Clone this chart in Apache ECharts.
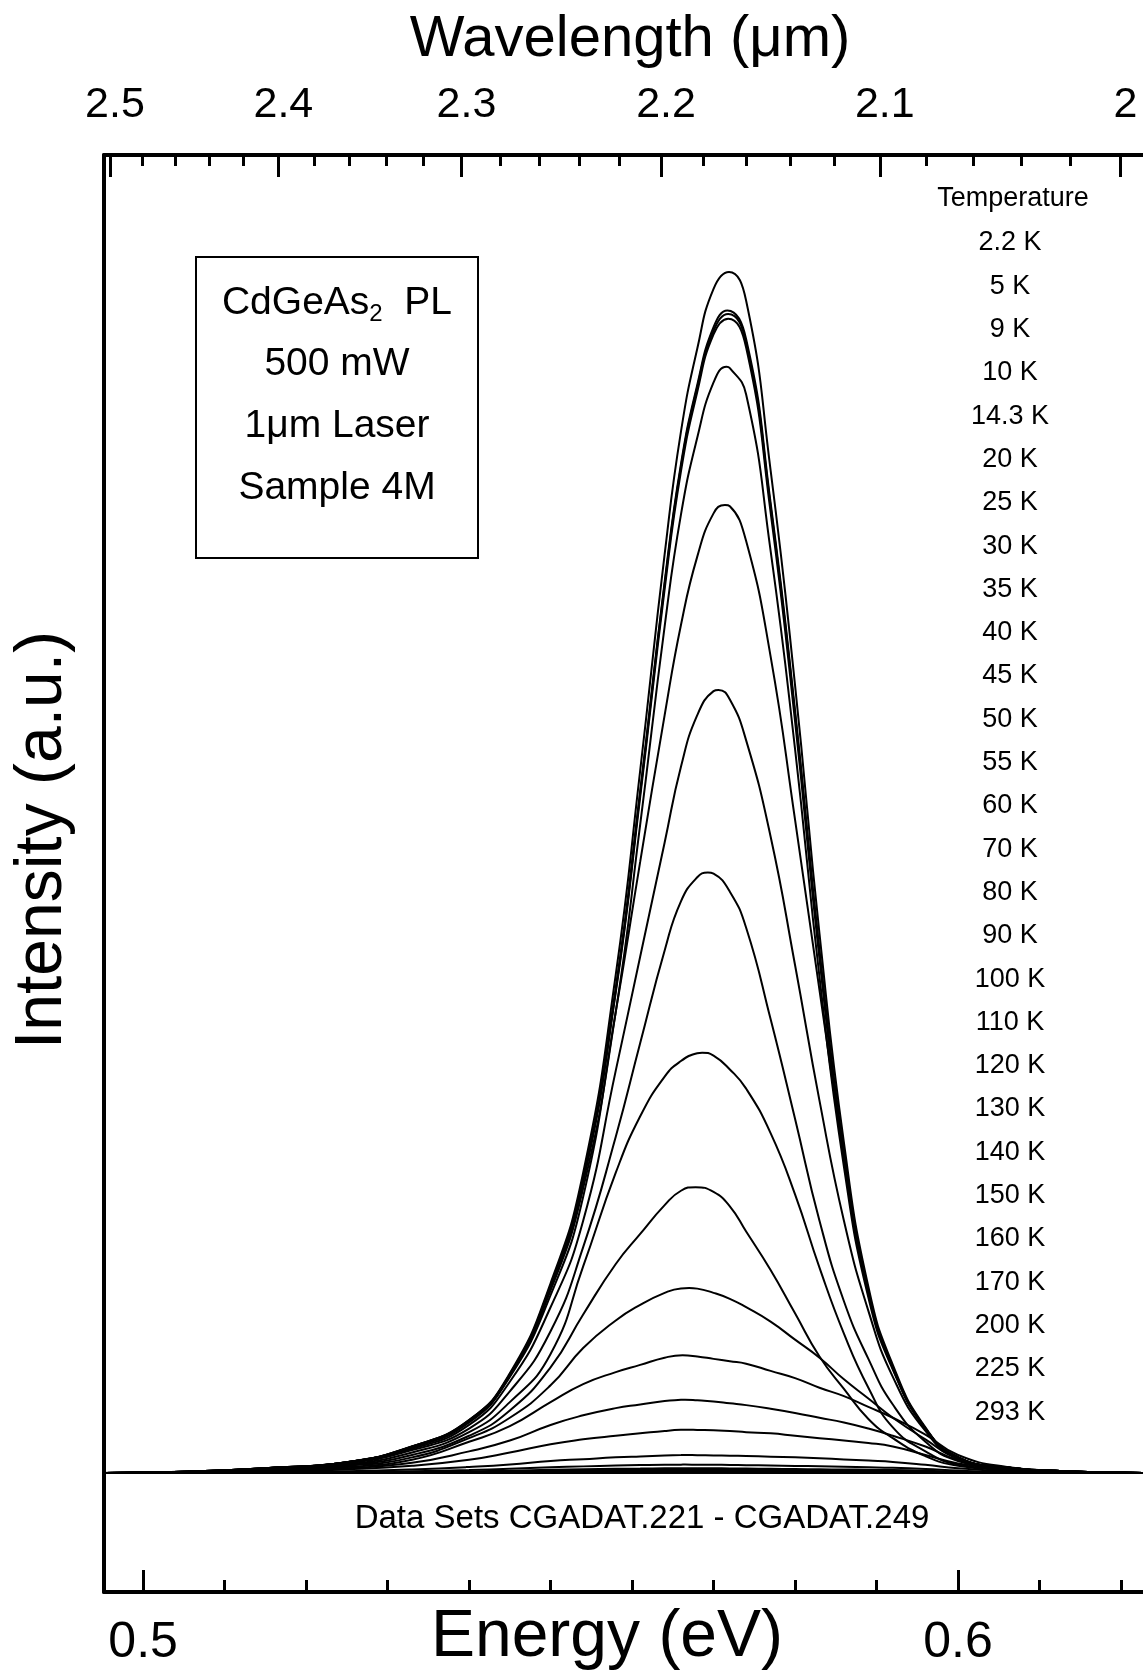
<!DOCTYPE html>
<html><head><meta charset="utf-8">
<script src="https://cdn.jsdelivr.net/npm/echarts@6/dist/echarts.min.js"></script>
<style>html,body{margin:0;padding:0;background:#fff}#chart{width:1143px;height:1673px}</style>
</head><body><div id="chart"></div>
<script>
// ---------- DATA ----------
// shared photon-energy sampling grid (eV)
const energy = [0.4952, 0.505, 0.515, 0.525, 0.533, 0.540, 0.545, 0.550, 0.554, 0.558, 0.561, 0.564, 0.566, 0.568, 0.570, 0.572, 0.574, 0.577, 0.580, 0.583, 0.586, 0.589, 0.592, 0.596, 0.600, 0.606, 0.613, 0.6227];

const temperatures = ['2.2 K','5 K','9 K','10 K','14.3 K','20 K','25 K','30 K','35 K','40 K','45 K','50 K','55 K','60 K','70 K','80 K','90 K','100 K','110 K','120 K','130 K','140 K','150 K','160 K','170 K','200 K','225 K','293 K'];

// PL intensity (a.u.) of each temperature on the energy grid
const pl_2_2K = [0, 0.1, 0.4, 0.9, 2.2, 4.4, 8.3, 15.8, 25.0, 41.5, 58.5, 76.5, 86.7, 93.6, 98.6, 100, 97.6, 83.5, 65.6, 44.9, 27.5, 15.5, 9.0, 3.8, 1.3, 0.45, 0.15, 0];
const pl_5K   = [0, 0.1, 0.4, 0.9, 2.2, 4.4, 8.2, 15.6, 24.5, 40.4, 56.8, 74.2, 84.0, 90.6, 95.4, 96.7, 94.4, 80.8, 63.5, 43.5, 26.7, 15.1, 8.8, 3.7, 1.3, 0.45, 0.15, 0];
const pl_9K   = [0, 0.1, 0.4, 0.9, 2.2, 4.35, 8.2, 15.5, 24.4, 40.2, 56.6, 74.0, 83.8, 90.4, 95.1, 96.4, 94.1, 80.5, 63.2, 43.3, 26.5, 15.0, 8.8, 3.7, 1.3, 0.45, 0.15, 0];
const pl_10K  = [0, 0.1, 0.4, 0.9, 2.15, 4.3, 8.1, 15.4, 24.2, 40.0, 56.3, 73.6, 83.4, 90.0, 94.8, 96.0, 93.7, 80.0, 62.6, 42.8, 26.2, 14.9, 8.7, 3.7, 1.3, 0.45, 0.15, 0];
const pl_14K  = [0, 0.1, 0.4, 0.9, 2.15, 4.3, 8.1, 15.2, 23.7, 38.4, 54.0, 70.5, 79.8, 86.2, 90.8, 92.0, 89.8, 76.8, 60.3, 41.3, 25.5, 14.6, 8.6, 3.7, 1.3, 0.45, 0.15, 0];
const pl_20K  = [0, 0.1, 0.4, 0.9, 2.1, 4.2, 8.0, 14.8, 23.0, 38.4, 50.9, 63.1, 70.6, 76.3, 79.9, 80.5, 77.6, 68.0, 54.4, 40.2, 26.5, 15.0, 8.8, 3.7, 1.3, 0.45, 0.15, 0];
const pl_25K  = [0, 0.1, 0.4, 0.85, 2.0, 4.0, 7.6, 13.8, 21.0, 33.5, 43.0, 52.5, 58.8, 63.1, 65.1, 64.4, 61.0, 53.0, 42.3, 31.0, 21.0, 13.5, 8.0, 3.5, 1.2, 0.45, 0.15, 0];
const pl_30K  = [0, 0.1, 0.35, 0.8, 1.9, 3.7, 6.8, 11.8, 18.8, 28.0, 35.8, 43.5, 47.6, 49.6, 49.9, 48.4, 45.4, 37.8, 29.5, 21.0, 14.3, 9.5, 5.7, 2.6, 1.0, 0.4, 0.12, 0];
const pl_35K  = [0, 0.1, 0.3, 0.7, 1.7, 3.4, 5.9, 9.9, 17.2, 25.0, 29.7, 33.0, 34.3, 34.95, 34.75, 33.6, 32.0, 28.3, 23.2, 17.1, 11.6, 7.1, 3.8, 1.8, 0.7, 0.3, 0.1, 0];
const pl_40K  = [0, 0.1, 0.28, 0.65, 1.5, 3.1, 5.2, 8.8, 13.2, 17.4, 19.9, 22.3, 23.5, 23.78, 23.4, 22.2, 20.1, 16.9, 13.3, 9.7, 7.0, 4.5, 2.9, 1.4, 0.6, 0.25, 0.1, 0];
const pl_45K  = [0, 0.08, 0.25, 0.6, 1.3, 2.9, 4.6, 7.3, 10.4, 12.7, 14.0, 15.0, 15.37, 15.35, 15.0, 14.5, 13.8, 12.6, 11.1, 9.6, 7.8, 6.2, 4.6, 2.8, 1.2, 0.45, 0.15, 0];
const pl_50K  = [0, 0.07, 0.2, 0.5, 1.1, 2.6, 3.9, 5.9, 7.4, 8.4, 9.0, 9.6, 9.79, 9.7, 9.5, 9.3, 9.1, 8.5, 7.9, 7.1, 6.4, 5.5, 4.6, 3.2, 1.5, 0.5, 0.15, 0];
const pl_55K  = [0, 0.05, 0.15, 0.4, 0.85, 1.8, 2.7, 4.0, 4.8, 5.4, 5.7, 6.0, 6.09, 6.05, 5.95, 5.8, 5.65, 5.35, 5.0, 4.6, 4.2, 3.7, 3.1, 2.2, 1.1, 0.4, 0.12, 0];
const pl_60K  = [0, 0.03, 0.1, 0.3, 0.6, 1.1, 1.7, 2.4, 2.8, 3.1, 3.3, 3.5, 3.59, 3.58, 3.55, 3.5, 3.4, 3.3, 3.1, 2.9, 2.7, 2.5, 2.2, 1.5, 0.8, 0.3, 0.1, 0];
const pl_70K  = [0, 0.02, 0.05, 0.15, 0.3, 0.5, 0.7, 1.0, 1.15, 1.3, 1.38, 1.45, 1.49, 1.48, 1.46, 1.44, 1.41, 1.36, 1.3, 1.22, 1.13, 1.03, 0.92, 0.68, 0.4, 0.15, 0.05, 0];
const pl_80K  = [0, 0.01, 0.03, 0.07, 0.15, 0.25, 0.35, 0.47, 0.55, 0.62, 0.66, 0.69, 0.695, 0.69, 0.68, 0.67, 0.65, 0.62, 0.59, 0.56, 0.52, 0.48, 0.43, 0.33, 0.2, 0.08, 0.03, 0];
const pl_90K  = [0, 0, 0.02, 0.04, 0.08, 0.13, 0.19, 0.26, 0.31, 0.35, 0.37, 0.39, 0.395, 0.395, 0.39, 0.38, 0.37, 0.35, 0.33, 0.31, 0.29, 0.27, 0.24, 0.19, 0.12, 0.05, 0.02, 0];
const pl_100K = [0, 0, 0.01, 0.03, 0.06, 0.09, 0.13, 0.18, 0.21, 0.24, 0.26, 0.27, 0.275, 0.275, 0.27, 0.27, 0.26, 0.25, 0.24, 0.22, 0.2, 0.18, 0.16, 0.13, 0.08, 0.03, 0.01, 0];
const pl_110K = [0, 0, 0.01, 0.02, 0.04, 0.06, 0.09, 0.13, 0.15, 0.17, 0.18, 0.19, 0.2, 0.2, 0.19, 0.19, 0.18, 0.18, 0.17, 0.16, 0.14, 0.13, 0.12, 0.09, 0.06, 0.02, 0.01, 0];
const pl_120K = [0, 0, 0, 0.01, 0.03, 0.05, 0.07, 0.1, 0.11, 0.13, 0.14, 0.14, 0.15, 0.15, 0.15, 0.14, 0.14, 0.13, 0.13, 0.12, 0.11, 0.1, 0.09, 0.07, 0.04, 0.02, 0, 0];
const pl_130K = [0, 0, 0, 0.01, 0.02, 0.04, 0.06, 0.08, 0.09, 0.1, 0.11, 0.11, 0.12, 0.12, 0.12, 0.11, 0.11, 0.11, 0.1, 0.09, 0.09, 0.08, 0.07, 0.05, 0.03, 0.01, 0, 0];
const pl_140K = [0, 0, 0, 0.01, 0.02, 0.03, 0.05, 0.06, 0.07, 0.08, 0.09, 0.09, 0.1, 0.1, 0.1, 0.09, 0.09, 0.09, 0.08, 0.08, 0.07, 0.06, 0.06, 0.04, 0.03, 0.01, 0, 0];
const pl_150K = [0, 0, 0, 0, 0.01, 0.02, 0.04, 0.05, 0.06, 0.07, 0.07, 0.08, 0.08, 0.08, 0.08, 0.07, 0.07, 0.07, 0.07, 0.06, 0.06, 0.05, 0.05, 0.04, 0.02, 0.01, 0, 0];
const pl_160K = [0, 0, 0, 0, 0.01, 0.02, 0.03, 0.04, 0.04, 0.05, 0.05, 0.06, 0.06, 0.06, 0.06, 0.06, 0.05, 0.05, 0.05, 0.05, 0.04, 0.04, 0.04, 0.03, 0.02, 0.01, 0, 0];
const pl_170K = [0, 0, 0, 0, 0.01, 0.01, 0.02, 0.03, 0.04, 0.04, 0.05, 0.05, 0.05, 0.05, 0.05, 0.05, 0.05, 0.04, 0.04, 0.04, 0.04, 0.03, 0.03, 0.02, 0.01, 0, 0, 0];
const pl_200K = [0, 0, 0, 0, 0.01, 0.01, 0.02, 0.02, 0.03, 0.03, 0.03, 0.04, 0.04, 0.04, 0.04, 0.04, 0.04, 0.03, 0.03, 0.03, 0.03, 0.02, 0.02, 0.02, 0.01, 0, 0, 0];
const pl_225K = [0, 0, 0, 0, 0, 0.01, 0.01, 0.02, 0.02, 0.02, 0.02, 0.03, 0.03, 0.03, 0.03, 0.03, 0.03, 0.03, 0.02, 0.02, 0.02, 0.02, 0.01, 0.01, 0.01, 0, 0, 0];
const pl_293K = [0, 0, 0, 0, 0, 0, 0.01, 0.01, 0.01, 0.01, 0.02, 0.02, 0.02, 0.02, 0.02, 0.02, 0.02, 0.02, 0.01, 0.01, 0.01, 0.01, 0.01, 0.01, 0, 0, 0, 0];

const plSeries = [pl_2_2K, pl_5K, pl_9K, pl_10K, pl_14K, pl_20K, pl_25K, pl_30K, pl_35K, pl_40K, pl_45K, pl_50K, pl_55K, pl_60K, pl_70K, pl_80K, pl_90K, pl_100K, pl_110K, pl_120K, pl_130K, pl_140K, pl_150K, pl_160K, pl_170K, pl_200K, pl_225K, pl_293K];

// position (eV) and height (a.u.) of each curve's maximum
const peakEnergy    = [0.5719, 0.5717, 0.5718, 0.5718, 0.5716, 0.5714, 0.5706, 0.5693, 0.5686, 0.5678, 0.5670, 0.5662, 0.5665, 0.5668, 0.5665, 0.5665, 0.5670, 0.5670, 0.5670, 0.5670, 0.5670, 0.5670, 0.5670, 0.5670, 0.5670, 0.5670, 0.5670, 0.5670];
const peakIntensity = [100, 96.8, 96.5, 96.1, 92.1, 80.6, 65.2, 50.0, 35.0, 23.8, 15.4, 9.8, 6.1, 3.6, 1.5, 0.7, 0.4, 0.28, 0.2, 0.15, 0.12, 0.1, 0.08, 0.06, 0.05, 0.04, 0.03, 0.02];

const energyMajorTicks = [0.5, 0.6];
const energyMinorTicks = [0.51, 0.52, 0.53, 0.54, 0.55, 0.56, 0.57, 0.58, 0.59, 0.61, 0.62];
const wavelengthMajorTicks = [2.5, 2.4, 2.3, 2.2, 2.1, 2.0];
const wavelengthMajorLabels = ['2.5', '2.4', '2.3', '2.2', '2.1', '2'];
const wavelengthMinorTicks = [2.48, 2.46, 2.44, 2.42, 2.38, 2.36, 2.34, 2.32, 2.28, 2.26, 2.24, 2.22, 2.18, 2.16, 2.14, 2.12, 2.08, 2.06, 2.04, 2.02];

const boxLines = ['{m|CdGeAs}{s|2}{m|  PL}', '500 mW', '1\u03bcm Laser', 'Sample 4M'];
const footnote = 'Data Sets CGADAT.221 - CGADAT.249';

// ---------- LAYOUT ----------
const HC = 1.23984; // eV * um : wavelength <-> photon energy
const E_MIN = 0.4952, E_MAX = 0.6227;
const Y_MIN = -9.91, Y_MAX = 109.74;
const FONT = "'Liberation Sans', Arial, Helvetica, sans-serif";
const wlMajorE = wavelengthMajorTicks.map(w => HC / w);
const wlMinorE = wavelengthMinorTicks.map(w => HC / w);

function wlLabel(v) {
  let best = 0, bd = Infinity;
  wlMajorE.forEach((e, i) => { const d = Math.abs(e - v); if (d < bd) { bd = d; best = i; } });
  return wavelengthMajorLabels[best];
}

function curveData(vals, pe, pi) {
  const pts = energy.map((e, i) => [e, vals[i]]).filter(p => Math.abs(p[0] - pe) > 0.0003);
  pts.push([pe, pi]);
  pts.sort((a, b) => a[0] - b[0]);
  return pts;
}

const chart = echarts.init(document.getElementById('chart'), null, {renderer: 'canvas'});

const baseX = {type: 'value', min: E_MIN, max: E_MAX, splitLine: {show: false}, axisPointer: {show: false}};

const series = plSeries.map((vals, k) => ({
  name: temperatures[k],
  type: 'line',
  xAxisIndex: 0, yAxisIndex: 0,
  showSymbol: false, symbol: 'none',
  smooth: 0.5,
  silent: true,
  lineStyle: {color: '#000', width: 2},
  data: curveData(vals, peakEnergy[k], peakIntensity[k])
}));

const graphics = [];
graphics.push({type: 'rect', shape: {x: 196, y: 257, width: 282, height: 301}, style: {fill: 'none', stroke: '#000', lineWidth: 2}});
const boxY = [303, 364, 426, 488];
boxLines.forEach((t, i) => {
  graphics.push({type: 'text', x: 337, y: boxY[i], style: {
    text: t, fill: '#000', fontSize: 39, fontFamily: FONT, align: 'center', verticalAlign: 'middle',
    rich: {m: {fontSize: 39, fontFamily: FONT, fill: '#000', lineHeight: 46}, s: {fontSize: 24, fontFamily: FONT, fill: '#000', lineHeight: 24, verticalAlign: 'bottom'}}
  }});
});
graphics.push({type: 'text', x: 1013, y: 199, style: {text: 'Temperature', fill: '#000', fontSize: 27, fontFamily: FONT, align: 'center', verticalAlign: 'middle'}});
temperatures.forEach((t, i) => {
  graphics.push({type: 'text', x: 1010, y: 243 + i * 43.3, style: {text: t, fill: '#000', fontSize: 27, fontFamily: FONT, align: 'center', verticalAlign: 'middle'}});
});
graphics.push({type: 'text', x: 642, y: 1519, style: {text: footnote, fill: '#000', fontSize: 33, fontFamily: FONT, align: 'center', verticalAlign: 'middle'}});

chart.setOption({
  animation: false,
  backgroundColor: '#fff',
  grid: {left: 104, right: 0, top: 155, bottom: 81, containLabel: false, outerBoundsMode: 'none'},
  xAxis: [
    Object.assign({}, baseX, {
      position: 'bottom',
      axisLine: {show: true, onZero: false, lineStyle: {color: '#000', width: 4}},
      axisTick: {show: true, inside: true, length: 22, lineStyle: {color: '#000', width: 3}, customValues: energyMajorTicks},
      axisLabel: {show: true, customValues: energyMajorTicks, formatter: v => v.toFixed(1), fontSize: 50, color: '#000', fontFamily: FONT, margin: 26},
      name: 'Energy (eV)', nameLocation: 'middle', nameGap: 13, nameMoveOverlap: false,
      nameTextStyle: {fontSize: 66, color: '#000', fontFamily: FONT, padding: [0, 33, 0, 0]}
    }),
    Object.assign({}, baseX, {
      position: 'bottom',
      axisLine: {show: false, onZero: false},
      axisTick: {show: true, inside: true, length: 12, lineStyle: {color: '#000', width: 3}, customValues: energyMinorTicks},
      axisLabel: {show: false}
    }),
    Object.assign({}, baseX, {
      position: 'top',
      axisLine: {show: true, onZero: false, lineStyle: {color: '#000', width: 4}},
      axisTick: {show: true, inside: true, length: 22, lineStyle: {color: '#000', width: 3}, customValues: wlMajorE},
      axisLabel: {show: true, customValues: wlMajorE, formatter: v => wlLabel(v), fontSize: 43, color: '#000', fontFamily: FONT, margin: 28, padding: [0, 0, 0, 10]},
      name: 'Wavelength (\u03bcm)', nameLocation: 'middle', nameGap: 86, nameMoveOverlap: false,
      nameTextStyle: {fontSize: 58, color: '#000', fontFamily: FONT, padding: [0, 0, 0, 13]}
    }),
    Object.assign({}, baseX, {
      position: 'top',
      axisLine: {show: false, onZero: false},
      axisTick: {show: true, inside: true, length: 11, lineStyle: {color: '#000', width: 3}, customValues: wlMinorE},
      axisLabel: {show: false}
    })
  ],
  yAxis: {
    type: 'value', min: Y_MIN, max: Y_MAX,
    axisLine: {show: true, onZero: false, lineStyle: {color: '#000', width: 4}},
    axisTick: {show: false}, axisLabel: {show: false}, splitLine: {show: false},
    name: 'Intensity (a.u.)', nameLocation: 'middle', nameGap: 28, nameMoveOverlap: false,
    nameTextStyle: {fontSize: 66, color: '#000', fontFamily: FONT, padding: [0, 0, 0, 67]}
  },
  series: series,
  graphic: graphics
});
</script></body></html>
